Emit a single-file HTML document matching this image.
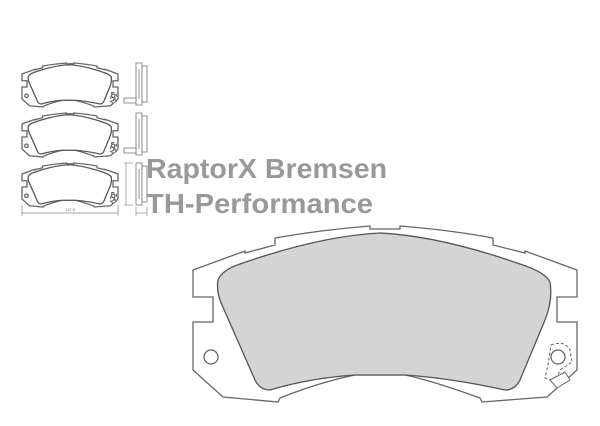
<!DOCTYPE html>
<html><head><style>
html,body{margin:0;padding:0;background:#fff;}
svg{display:block;}
</style></head><body>
<svg width="600" height="426" viewBox="0 0 600 426" xmlns="http://www.w3.org/2000/svg">
<defs>
<g id="pad">
<path d="M193,270 L245,251 L245,253 L275,245 L275,238 Q320,230 370,226 L370,229 L400,229 L400,226 Q450,230 493,238 L493,245 L525,253 L525,251 L577,270 L577,297 L557,297 L557,322 L577,322 L577,370 L547,397 L482,402 L480,398 Q430,380 405,375 L355,375 Q320,382 280,398 L278,402 L223,397 L193,370 L193,322 L213,322 L213,297 L193,297 Z" fill="#fff" stroke="#666" stroke-width="1.3" vector-effect="non-scaling-stroke"/>
<path d="M218,280 Q222,270 240,264 Q320,236 380,233 Q440,236 520,264 Q545,272 550,282 Q553,300 545,320 L520,380 Q515,390 505,390 Q450,378 405,375 L355,375 Q310,378 270,390 Q260,390 255,380 L222,305 Q216,292 218,280 Z" fill="currentColor" stroke="#555" stroke-width="1.3" vector-effect="non-scaling-stroke"/>
<circle cx="211" cy="357" r="7" fill="#fff" stroke="#666" stroke-width="1.3" vector-effect="non-scaling-stroke"/>
<circle cx="558" cy="357" r="7" fill="#fff" stroke="#666" stroke-width="1.3" vector-effect="non-scaling-stroke"/>
<path d="M551,345 Q565,340 570,350 L572,362 L560,370 L555,382 L545,378 L548,365 Z" fill="none" stroke="#666" stroke-width="1" stroke-dasharray="3,2" vector-effect="non-scaling-stroke"/>
<path d="M550,380 L565,372 L570,380 L557,388 Z" fill="#fff" stroke="#666" stroke-width="1" vector-effect="non-scaling-stroke"/>
</g>
<g id="side" fill="#fff" stroke="#777" stroke-width="0.8">
<rect x="136" y="0" width="6" height="42"/>
<rect x="142" y="3" width="5" height="36"/>
<line x1="139" y1="6" x2="139" y2="36"/>
</g>
</defs>
<use href="#pad" style="color:#d4d4d4"/>
<g transform="translate(-26.25,6.5) scale(0.25)" style="color:#fff"><use href="#pad"/></g>
<g transform="translate(-26.25,56.5) scale(0.25)" style="color:#fff"><use href="#pad"/></g>
<g transform="translate(-26.25,106.5) scale(0.25)" style="color:#fff"><use href="#pad"/></g>
<g transform="translate(0,63)"><use href="#side"/><rect x="124" y="35" width="12" height="5" fill="#fff" stroke="#777" stroke-width="0.8"/></g>
<g transform="translate(0,113)"><use href="#side"/><rect x="124" y="35" width="12" height="5" fill="#fff" stroke="#777" stroke-width="0.8"/></g>
<g transform="translate(0,163)"><use href="#side"/></g>
<g stroke="#888" stroke-width="0.7" fill="none">
<line x1="22" y1="213" x2="118" y2="213"/>
<line x1="22" y1="205" x2="22" y2="216"/>
<line x1="118" y1="205" x2="118" y2="216"/>
<line x1="126" y1="163" x2="126" y2="205"/>
<line x1="124" y1="163" x2="133" y2="163"/>
<line x1="124" y1="205" x2="133" y2="205"/>
<line x1="136" y1="213" x2="147" y2="213"/>
<line x1="136" y1="207" x2="136" y2="216"/>
<line x1="147" y1="207" x2="147" y2="216"/>
</g>
<text x="70" y="211" font-family="Liberation Sans, sans-serif" font-size="4" fill="#777" text-anchor="middle">137.8</text>
<text x="146" y="178" font-family="Liberation Sans, sans-serif" font-size="28" font-weight="bold" fill="#999" textLength="241" lengthAdjust="spacingAndGlyphs">RaptorX Bremsen</text>
<text x="146" y="213" font-family="Liberation Sans, sans-serif" font-size="28" font-weight="bold" fill="#999" textLength="227" lengthAdjust="spacingAndGlyphs">TH-Performance</text>
</svg>
</body></html>
